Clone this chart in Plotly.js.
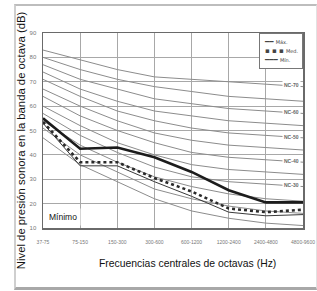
<!DOCTYPE html>
<html><head><meta charset="utf-8">
<script src="https://cdn.plot.ly/plotly-3.0.1.min.js"></script>
<style>
html,body{margin:0;padding:0;background:#fff;}
#frame{position:absolute;left:14px;top:4px;width:300px;height:281px;border-top:2px solid #bdbdbd;border-left:2px solid #cfcfcf;border-bottom:3px solid #a8a8a8;border-right:1px solid #e2e2e2;}
#chart{position:absolute;left:0;top:0;width:317px;height:291px;}
</style></head>
<body>
<div id="frame"></div>
<div id="chart"></div>
<script>
// Octave bands (Hz)
const bands = ["37-75","75-150","150-300","300-600","600-1200","1200-2400","2400-4800","4800-9600"];
const yTicks = [10,20,30,40,50,60,70,80,90];

// NC reference curves (dB)
const ncNames = ["NC-15","NC-20","NC-25","NC-30","NC-35","NC-40","NC-45","NC-50","NC-55","NC-60","NC-65","NC-70"];
const nc15 = [47,36,29,22,17,14,12,11];
const nc20 = [51,40,33,26,22,19,17,16];
const nc25 = [54,44,37,31,27,24,22,21];
const nc30 = [57,48,41,35,31,29,28,27];
const nc35 = [60,52,45,40,36,34,33,32];
const nc40 = [64,56,50,45,41,39,38,37];
const nc45 = [67,60,54,49,46,44,43,42];
const nc50 = [71,64,58,54,51,49,48,47];
const nc55 = [74,67,62,58,56,54,53,52];
const nc60 = [77,71,67,63,61,59,58,57];
const nc65 = [80,75,71,68,66,64,63,62];
const nc70 = [83,79,75,72,71,70,69,68];
const ncCurves = [nc15,nc20,nc25,nc30,nc35,nc40,nc45,nc50,nc55,nc60,nc65,nc70];
const labelled = ["NC-30","NC-40","NC-50","NC-60","NC-70"];

// Measured spectra (dB)
const maxLevel = [55,42.5,43,39,33,25.5,20.5,20.5];
const midLevel = [53.5,37,37,30.5,25,18,16.5,17.5];
const minLevel = [53,35.5,35.5,29,23,16.5,15,15.5];

const xIdx = bands.map((b,i)=>i);
const traces = [];
ncCurves.forEach((c,k)=>{
  traces.push({x:xIdx,y:c,type:'scatter',mode:'lines',name:ncNames[k],
    line:{color:'#8c8c8c',width:1},showlegend:false,hoverinfo:'skip'});
});
traces.push({x:xIdx,y:minLevel,type:'scatter',mode:'lines',name:'Mínimo',line:{color:'#3a3a3a',width:1},showlegend:false});
traces.push({x:xIdx,y:midLevel,type:'scatter',mode:'lines',name:'Medio',line:{color:'#2a2a2a',width:2.6,dash:'dot'},showlegend:false});
traces.push({x:xIdx,y:maxLevel,type:'scatter',mode:'lines',name:'Máximo',line:{color:'#1c1c1c',width:2.6},showlegend:false});

const annotations = [];
ncNames.forEach((n,k)=>{
  if(labelled.indexOf(n)>=0){
    annotations.push({x:6.68,y:ncCurves[k][7]+0.5,xref:'x',yref:'y',text:'<b>'+n+'</b>',showarrow:false,
      font:{family:'Liberation Sans, Arial',size:5,color:'#666'},bgcolor:'#ffffff',borderpad:1});
  }
});
annotations.push({xref:'paper',yref:'paper',x:-0.085,y:0.45,xanchor:'center',yanchor:'middle',
  text:'Nivel de presión sonora en la banda de octava (dB)',
  textangle:-90,showarrow:false,font:{family:'Liberation Sans, Arial',size:11.3,color:'#111'}});
annotations.push({xref:'paper',yref:'paper',x:0.554,y:-0.18,xanchor:'center',yanchor:'middle',
  text:'Frecuencias centrales de octavas (Hz)',
  showarrow:false,font:{family:'Liberation Sans, Arial',size:10.4,color:'#111'}});
annotations.push({xref:'paper',yref:'paper',x:0.078,y:0.056,xanchor:'center',yanchor:'middle',text:'Mínimo',showarrow:false,
  font:{family:'Liberation Sans, Arial',size:8.5,color:'#111'},bgcolor:'#ffffff',borderpad:3});
annotations.push({xref:'paper',yref:'paper',x:1,y:1,xanchor:'right',yanchor:'top',align:'left',
  text:'━━ <span style="font-size:5px">Máx.</span><br>▪ ▪ ▪ <span style="font-size:5px">Med.</span><br>━━━ <span style="font-size:5px">Mín.</span>',
  showarrow:false,font:{family:'DejaVu Sans',size:7,color:'#444'},bgcolor:'#ffffff',bordercolor:'#777',borderwidth:1,borderpad:4});

const layout = {
  width:317,height:291,
  margin:{l:43,r:14,t:33,b:63},
  paper_bgcolor:'rgba(0,0,0,0)',plot_bgcolor:'#ffffff',
  showlegend:false,
  xaxis:{range:[0,7],tickvals:xIdx,ticktext:bands,showgrid:true,gridcolor:'#a8a8a8',gridwidth:1,
    zeroline:false,showline:true,mirror:true,linecolor:'#6a6a6a',linewidth:1.5,
    ticks:'outside',ticklen:8,tickcolor:'rgba(0,0,0,0)',
    tickfont:{family:'Liberation Sans, Arial',size:5,color:'#777'},tickangle:0},
  yaxis:{range:[10,90],tickvals:yTicks,showgrid:true,gridcolor:'#a8a8a8',gridwidth:1,
    zeroline:false,showline:true,mirror:true,linecolor:'#6a6a6a',linewidth:1.5,
    ticks:'outside',ticklen:4,tickcolor:'rgba(0,0,0,0)',
    tickfont:{family:'Liberation Sans, Arial',size:6,color:'#777'}},
  annotations:annotations
};
Plotly.newPlot('chart',traces,layout,{displayModeBar:false,staticPlot:true});
</script>
</body></html>
